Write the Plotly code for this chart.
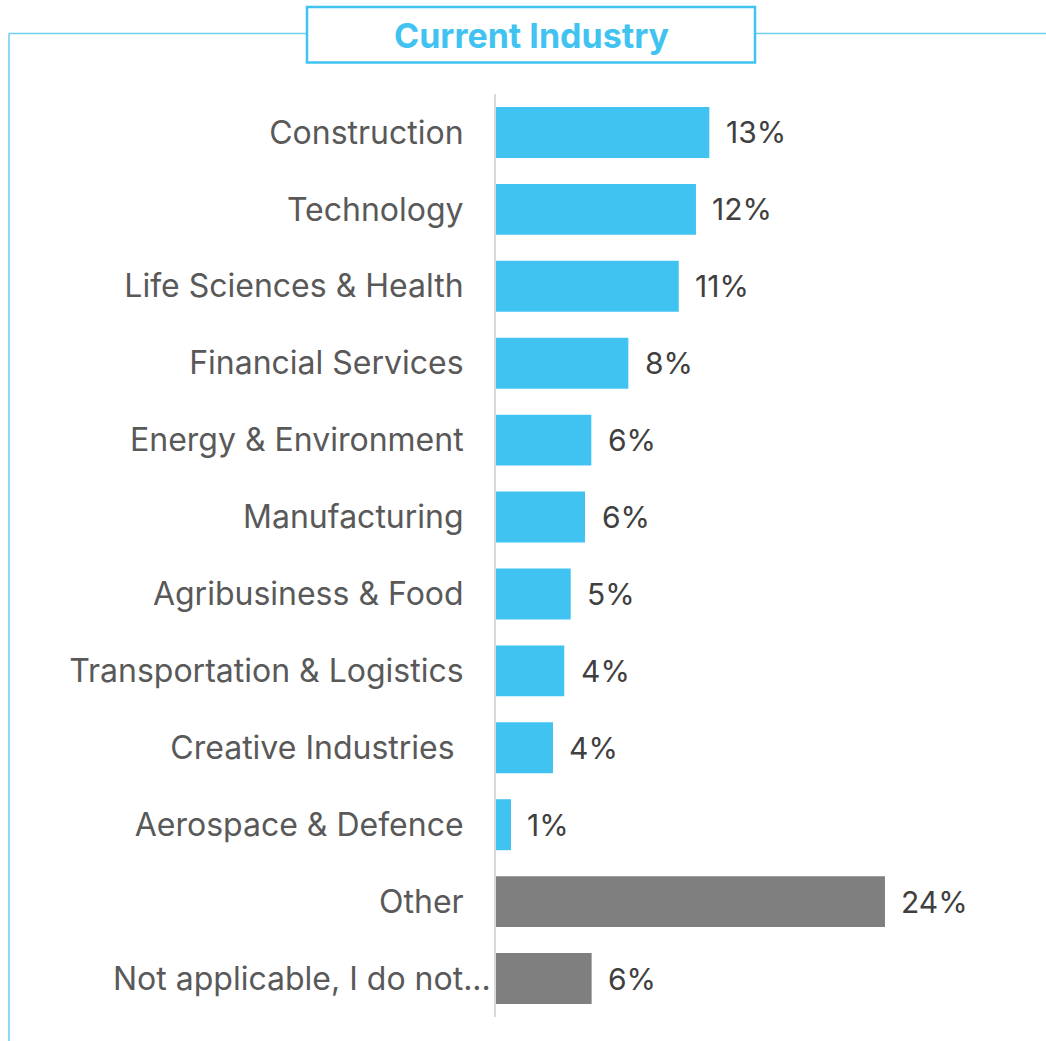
import plotly.graph_objects as go

# Survey results: share of respondents by current industry
categories = [
    "Construction",
    "Technology",
    "Life Sciences & Health",
    "Financial Services",
    "Energy & Environment",
    "Manufacturing",
    "Agribusiness & Food",
    "Transportation & Logistics",
    "Creative Industries\u00a0",
    "Aerospace & Defence",
    "Other",
    "Not applicable, I do not...",
]
shares = [13.25, 12.42, 11.35, 8.22, 5.92, 5.53, 4.64, 4.24, 3.54, 0.93, 24.16, 5.94]
groups = ["sector"] * 10 + ["none", "none"]

W, H = 1046, 1041
M_L, M_R, M_T, M_B = 496, 16, 93.5, 23.5
PLOT_W = W - M_L - M_R
PLOT_H = H - M_T - M_B
X_MAX = PLOT_W / 16.1

BLUE = "#41c3f2"
GREY = "#7f7f7f"
FRAME = "#72d0f2"
LABEL_FONT = dict(family="Inter", size=32, color="#595959")

colors = [BLUE if g == "sector" else GREY for g in groups]

# the truncated last label sits closer to the axis than the others
LONG_LABEL = categories[-1]
ticktext = ["" if c == LONG_LABEL else c for c in categories]


def px_x(px):
    return (px - M_L) / PLOT_W


def px_y(py):
    return (H - M_B - py) / PLOT_H


fig = go.Figure(
    go.Bar(
        x=shares,
        y=categories,
        orientation="h",
        marker=dict(color=colors, line=dict(width=0)),
        hoverinfo="skip",
    )
)

# value labels placed just past the end of each bar
for cat, val in zip(categories, shares):
    fig.add_annotation(
        x=val, y=cat, xref="x", yref="y",
        text=f"{val:.0f}%",
        showarrow=False, xanchor="left", yanchor="middle",
        xshift=14.5,
        font=dict(family="Inter", size=30, color="#404040"),
    )

fig.add_annotation(
    x=px_x(493), y=LONG_LABEL, xref="paper", yref="y",
    text=LONG_LABEL, showarrow=False, xanchor="right", yanchor="middle",
    font=LABEL_FONT,
)

# outer frame: left edge and top edge broken by the title box
frame_shapes = [
    dict(x0=px_x(9), x1=px_x(9), y0=px_y(33), y1=px_y(H + 5)),
    dict(x0=px_x(9), x1=px_x(307), y0=px_y(33), y1=px_y(33)),
    dict(x0=px_x(755), x1=px_x(W + 5), y0=px_y(33), y1=px_y(33)),
]
for s in frame_shapes:
    fig.add_shape(type="line", xref="paper", yref="paper",
                  line=dict(color=FRAME, width=1.6), layer="below", **s)

fig.add_shape(
    type="rect", xref="paper", yref="paper",
    x0=px_x(307), x1=px_x(755), y0=px_y(62), y1=px_y(6.5),
    line=dict(color=BLUE, width=2.5), fillcolor="white", layer="below",
)
fig.add_annotation(
    xref="paper", yref="paper", x=px_x(531), y=px_y(35),
    text="<b>Current Industry</b>", showarrow=False,
    xanchor="center", yanchor="middle",
    font=dict(family="Inter", size=34, color=BLUE, weight=800),
)

fig.update_layout(
    width=W, height=H,
    margin=dict(l=M_L, r=M_R, t=M_T, b=M_B, autoexpand=False),
    paper_bgcolor="white", plot_bgcolor="white",
    bargap=0.337,
    showlegend=False,
    xaxis=dict(range=[0, X_MAX], visible=False, fixedrange=True),
    yaxis=dict(
        autorange=False, range=[len(categories) - 0.5, -0.5],
        tickmode="array", tickvals=categories, ticktext=ticktext,
        showline=True, linecolor="#d9d9d9", linewidth=2,
        showgrid=False, zeroline=False, ticks="",
        ticklabelstandoff=24,
        tickfont=LABEL_FONT,
        fixedrange=True,
    ),
)

fig.write_html("out.html")
